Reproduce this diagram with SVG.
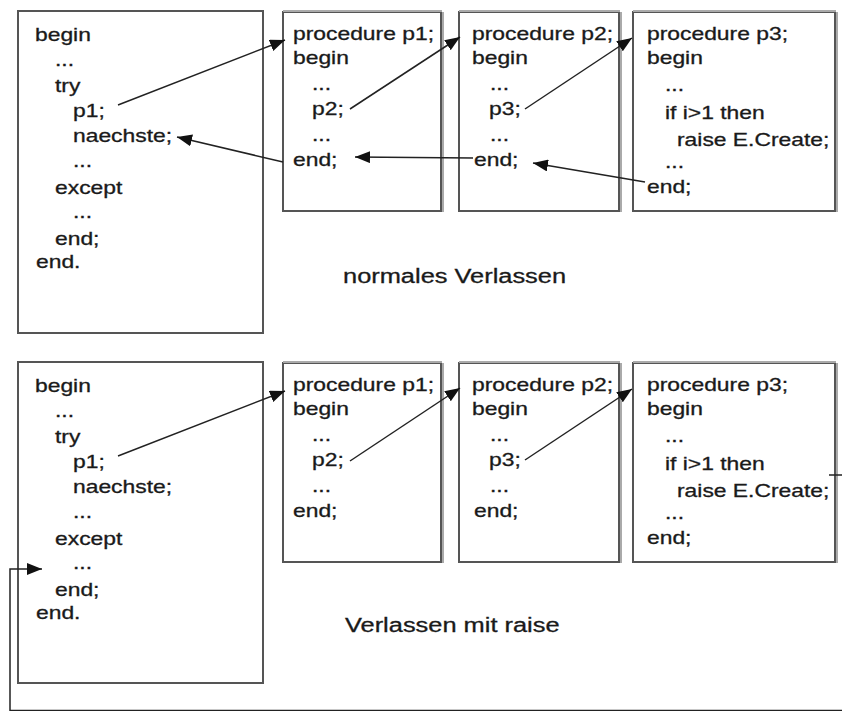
<svg xmlns="http://www.w3.org/2000/svg" width="842" height="711" viewBox="0 0 842 711">
<style>
.box{fill:#fff;stroke:#555;stroke-width:2}
.sh{stroke:#aaa;stroke-width:2;fill:none}
.t{font-family:"Liberation Sans",Arial,sans-serif;font-size:18px;fill:#1a1a1a;stroke:#1a1a1a;stroke-width:0.3}
.lbl{font-family:"Liberation Sans",Arial,sans-serif;font-size:20px;fill:#1a1a1a;stroke:#1a1a1a;stroke-width:0.3}
.c{fill:none;stroke:#222;stroke-width:1.5}
</style>
<defs>
<marker id="ah" markerUnits="userSpaceOnUse" markerWidth="16" markerHeight="12" refX="15" refY="6" orient="auto">
<path d="M0,0 L15,6 L0,12 z" fill="#111"/>
</marker>
</defs>
<rect width="842" height="711" fill="#fff"/>

<!-- top section -->
<g id="main1">
<rect class="box" x="18" y="11" width="245" height="322"/>
<text class="t" transform="matrix(1.27 0 0 1 35 41)">begin</text>
<text class="t" transform="matrix(1.27 0 0 1 55 66)">...</text>
<text class="t" transform="matrix(1.27 0 0 1 55 92)">try</text>
<text class="t" transform="matrix(1.27 0 0 1 73 117)">p1;</text>
<text class="t" transform="matrix(1.27 0 0 1 73 142)">naechste;</text>
<text class="t" transform="matrix(1.27 0 0 1 73 167)">...</text>
<text class="t" transform="matrix(1.27 0 0 1 55 194)">except</text>
<text class="t" transform="matrix(1.27 0 0 1 73 218)">...</text>
<text class="t" transform="matrix(1.27 0 0 1 55 245)">end;</text>
<text class="t" transform="matrix(1.27 0 0 1 36 268)">end.</text>
</g>
<g id="p1a">
<rect class="box" x="283" y="12" width="158" height="199"/>
<path class="sh" d="M283,11 H442 M443,12 V212"/>
<text class="t" transform="matrix(1.27 0 0 1 293 40)">procedure p1;</text>
<text class="t" transform="matrix(1.27 0 0 1 293 64)">begin</text>
<text class="t" transform="matrix(1.27 0 0 1 312 90)">...</text>
<text class="t" transform="matrix(1.27 0 0 1 312 115)">p2;</text>
<text class="t" transform="matrix(1.27 0 0 1 312 141)">...</text>
<text class="t" transform="matrix(1.27 0 0 1 293 166)">end;</text>
</g>
<g id="p2a">
<rect class="box" x="459" y="12" width="160" height="199"/>
<path class="sh" d="M459,11 H620 M621,12 V212"/>
<text class="t" transform="matrix(1.27 0 0 1 472 40)">procedure p2;</text>
<text class="t" transform="matrix(1.27 0 0 1 472 64)">begin</text>
<text class="t" transform="matrix(1.27 0 0 1 490 90)">...</text>
<text class="t" transform="matrix(1.27 0 0 1 489 115)">p3;</text>
<text class="t" transform="matrix(1.27 0 0 1 490 141)">...</text>
<text class="t" transform="matrix(1.27 0 0 1 474 166)">end;</text>
</g>
<g id="p3a">
<rect class="box" x="633" y="12" width="202" height="199"/>
<path class="sh" d="M633,11 H836 M837,12 V212"/>
<text class="t" transform="matrix(1.27 0 0 1 647 40)">procedure p3;</text>
<text class="t" transform="matrix(1.27 0 0 1 647 64)">begin</text>
<text class="t" transform="matrix(1.27 0 0 1 665 91)">...</text>
<text class="t" transform="matrix(1.27 0 0 1 665 119)">if i&gt;1 then</text>
<text class="t" transform="matrix(1.27 0 0 1 677 146)">raise E.Create;</text>
<text class="t" transform="matrix(1.27 0 0 1 665 168)">...</text>
<text class="t" transform="matrix(1.27 0 0 1 647 193)">end;</text>
</g>
<g id="label1">
<text class="lbl" transform="matrix(1.27 0 0 1 343 283)">normales Verlassen</text>
</g>

<!-- bottom section -->
<g id="main2">
<rect class="box" x="18" y="362" width="245" height="321"/>
<text class="t" transform="matrix(1.27 0 0 1 35 392)">begin</text>
<text class="t" transform="matrix(1.27 0 0 1 55 417)">...</text>
<text class="t" transform="matrix(1.27 0 0 1 55 443)">try</text>
<text class="t" transform="matrix(1.27 0 0 1 73 468)">p1;</text>
<text class="t" transform="matrix(1.27 0 0 1 73 493)">naechste;</text>
<text class="t" transform="matrix(1.27 0 0 1 73 518)">...</text>
<text class="t" transform="matrix(1.27 0 0 1 55 545)">except</text>
<text class="t" transform="matrix(1.27 0 0 1 73 569)">...</text>
<text class="t" transform="matrix(1.27 0 0 1 55 596)">end;</text>
<text class="t" transform="matrix(1.27 0 0 1 36 619)">end.</text>
</g>
<g id="p1b">
<rect class="box" x="283" y="363" width="158" height="199"/>
<path class="sh" d="M283,362 H442 M443,363 V563"/>
<text class="t" transform="matrix(1.27 0 0 1 293 391)">procedure p1;</text>
<text class="t" transform="matrix(1.27 0 0 1 293 415)">begin</text>
<text class="t" transform="matrix(1.27 0 0 1 312 441)">...</text>
<text class="t" transform="matrix(1.27 0 0 1 312 466)">p2;</text>
<text class="t" transform="matrix(1.27 0 0 1 312 492)">...</text>
<text class="t" transform="matrix(1.27 0 0 1 293 517)">end;</text>
</g>
<g id="p2b">
<rect class="box" x="459" y="363" width="160" height="199"/>
<path class="sh" d="M459,362 H620 M621,363 V563"/>
<text class="t" transform="matrix(1.27 0 0 1 472 391)">procedure p2;</text>
<text class="t" transform="matrix(1.27 0 0 1 472 415)">begin</text>
<text class="t" transform="matrix(1.27 0 0 1 490 441)">...</text>
<text class="t" transform="matrix(1.27 0 0 1 489 466)">p3;</text>
<text class="t" transform="matrix(1.27 0 0 1 490 492)">...</text>
<text class="t" transform="matrix(1.27 0 0 1 474 517)">end;</text>
</g>
<g id="p3b">
<rect class="box" x="633" y="363" width="202" height="199"/>
<path class="sh" d="M633,362 H836 M837,363 V563"/>
<text class="t" transform="matrix(1.27 0 0 1 647 391)">procedure p3;</text>
<text class="t" transform="matrix(1.27 0 0 1 647 415)">begin</text>
<text class="t" transform="matrix(1.27 0 0 1 665 442)">...</text>
<text class="t" transform="matrix(1.27 0 0 1 665 470)">if i&gt;1 then</text>
<text class="t" transform="matrix(1.27 0 0 1 677 497)">raise E.Create;</text>
<text class="t" transform="matrix(1.27 0 0 1 665 519)">...</text>
<text class="t" transform="matrix(1.27 0 0 1 647 544)">end;</text>
</g>
<g id="label2">
<text class="lbl" transform="matrix(1.27 0 0 1 345 632)">Verlassen mit raise</text>
</g>

<g id="connectors">
<line class="c" x1="118" y1="105" x2="285" y2="40" marker-end="url(#ah)"/>
<line class="c" x1="350" y1="109" x2="460" y2="37" marker-end="url(#ah)"/>
<line class="c" x1="525" y1="109" x2="632" y2="38" marker-end="url(#ah)"/>
<line class="c" x1="645" y1="182" x2="533" y2="163" marker-end="url(#ah)"/>
<line class="c" x1="473" y1="158" x2="355" y2="157" marker-end="url(#ah)"/>
<line class="c" x1="283" y1="162" x2="177" y2="137" marker-end="url(#ah)"/>
<line class="c" x1="118" y1="456" x2="285" y2="391" marker-end="url(#ah)"/>
<line class="c" x1="350" y1="461" x2="460" y2="388" marker-end="url(#ah)"/>
<line class="c" x1="525" y1="460" x2="632" y2="389" marker-end="url(#ah)"/>
<path class="c" d="M829,475 H850 V710.5 H10 V569 H42" stroke="#444" marker-end="url(#ah)"/>
</g>
</svg>
